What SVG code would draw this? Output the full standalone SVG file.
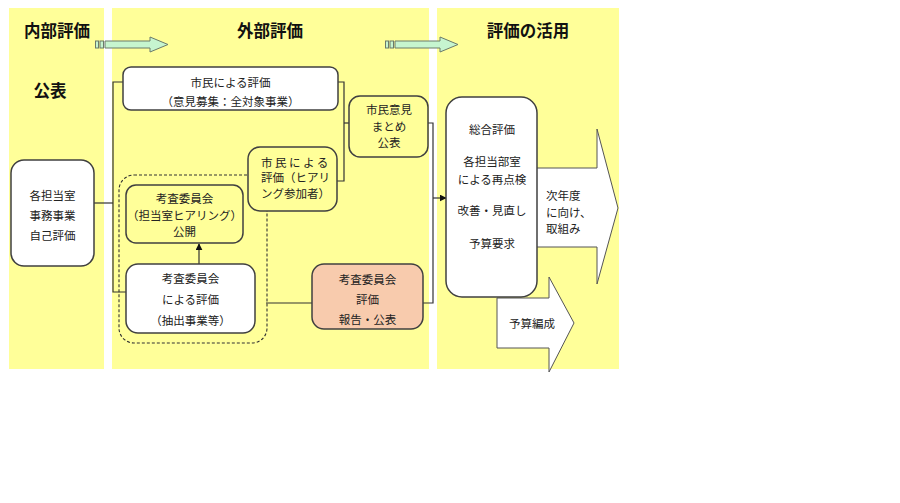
<svg xmlns="http://www.w3.org/2000/svg" width="900" height="503" viewBox="0 0 900 503">
<style>
.panel{fill:#FFFF99}
.box{stroke:#404040;stroke-width:1.5}
.w{fill:#FFFFFF}
.y{fill:#FFFF99}
.pk{fill:#F8CBAD}
.t{font-family:"Noto Sans CJK JP","Noto Sans CJK SC",sans-serif;font-size:11.5px;fill:#222;text-anchor:middle;dominant-baseline:central}
.tl{text-anchor:start}
.h{font-family:"Noto Sans CJK JP","Noto Sans CJK SC",sans-serif;font-size:16.5px;font-weight:bold;fill:#111;text-anchor:middle;dominant-baseline:central}
.ln{fill:none;stroke:#333;stroke-width:1.2}
.ga{fill:#C6F5CF;stroke:#6A7A6A;stroke-width:1}
.ba{fill:#FFFFFF;stroke:#555;stroke-width:1}
</style>
<defs>
<marker id="ah" viewBox="0 0 10 10" refX="9" refY="5" markerWidth="7" markerHeight="7" orient="auto" markerUnits="userSpaceOnUse">
<path d="M0,0 L10,5 L0,10 z" fill="#111"/>
</marker>
</defs>
<rect width="900" height="503" fill="#FFFFFF"/>
<g id="panels">
<rect class="panel" x="9" y="8" width="95" height="361"/>
<rect class="panel" x="112" y="8" width="317" height="361"/>
<rect class="panel" x="437" y="8" width="182" height="361"/>
</g>
<g id="headers">
<text class="h" x="57" y="30">内部評価</text>
<text class="h" x="270" y="30">外部評価</text>
<text class="h" x="528" y="30">評価の活用</text>
<text class="h" x="50" y="90">公表</text>
</g>
<g id="green-arrows">
<rect class="ga" x="95.5" y="41" width="3" height="7"/>
<rect class="ga" x="100" y="41" width="3.5" height="7"/>
<path class="ga" d="M105,41 L150,41 L150,37 L168,44.5 L150,52 L150,48 L105,48 Z"/>
<rect class="ga" x="385.5" y="41" width="3" height="7"/>
<rect class="ga" x="390" y="41" width="3.5" height="7"/>
<path class="ga" d="M395,41 L440,41 L440,37 L458,44.5 L440,52 L440,48 L395,48 Z"/>
</g>
<g id="big-arrows">
<path id="arrow-next" class="ba" d="M520,168 L597,168 L597,129 L618,208 L597,284 L597,247 L520,247 Z"/>
<path id="arrow-budget" class="ba" d="M497,298 L549,298 L549,277 L574,323 L549,372 L549,348 L497,348 Z"/>
</g>
<g id="connectors">
<polyline class="ln" points="94,203 113,203"/>
<polyline class="ln" points="123,82 113,82 113,292 126,292"/>
<polyline class="ln" points="338,82 344,82 344,181 337,181"/>
<polyline class="ln" points="344,123 349,123"/>
<polyline class="ln" points="428,123 433,123 433,303 423,303"/>
<line class="ln" x1="433" y1="198" x2="446" y2="198" marker-end="url(#ah)"/>
<line class="ln" x1="266" y1="303" x2="312" y2="303"/>
<line class="ln" x1="199" y1="264" x2="199" y2="244" marker-end="url(#ah)"/>
<rect x="119" y="175" width="148" height="168" rx="15" fill="none" stroke="#333" stroke-width="1.1" stroke-dasharray="3,2"/>
</g>
<g id="node-naibu">
<rect class="box w" x="11" y="160" width="83" height="106" rx="13"/>
<text class="t" x="52.5" y="195">各担当室</text>
<text class="t" x="52.5" y="215">事務事業</text>
<text class="t" x="52.5" y="235">自己評価</text>
</g>
<g id="node-shimin">
<rect class="box w" x="123" y="67" width="215" height="43" rx="8"/>
<text class="t" x="230.5" y="82">市民による評価</text>
<text class="t" x="230.5" y="101">（意見募集：全対象事業）</text>
</g>
<g id="node-hearing">
<rect class="box y" x="248" y="147" width="89" height="64" rx="12"/>
<text class="t tl" x="261" y="162" letter-spacing="2.5">市民による</text>
<text class="t tl" x="261" y="177">評価（ヒアリ</text>
<text class="t tl" x="261" y="193">ング参加者）</text>
</g>
<g id="node-matome">
<rect class="box y" x="349" y="96" width="79" height="61" rx="11"/>
<text class="t" x="389" y="109">市民意見</text>
<text class="t" x="389" y="126">まとめ</text>
<text class="t" x="389" y="142">公表</text>
</g>
<g id="node-kosa-hearing">
<rect class="box y" x="126" y="185" width="117" height="58" rx="10"/>
<text class="t" x="184.5" y="198">考査委員会</text>
<text class="t" x="184.5" y="215">（担当室ヒアリング）</text>
<text class="t" x="184.5" y="231">公開</text>
</g>
<g id="node-kosa-eval">
<rect class="box w" x="126" y="264" width="129" height="69" rx="12"/>
<text class="t" x="190.5" y="278">考査委員会</text>
<text class="t" x="190.5" y="299">による評価</text>
<text class="t" x="190.5" y="320">（抽出事業等）</text>
</g>
<g id="node-report">
<rect class="box pk" x="312" y="264" width="111" height="65" rx="12"/>
<text class="t" x="367.5" y="279">考査委員会</text>
<text class="t" x="367.5" y="299">評価</text>
<text class="t" x="367.5" y="319">報告・公表</text>
</g>
<g id="node-katsuyo">
<rect class="box w" x="446" y="97" width="91" height="200" rx="16"/>
<text class="t" x="492" y="129">総合評価</text>
<text class="t" x="492" y="161">各担当部室</text>
<text class="t" x="492" y="179">による再点検</text>
<text class="t" x="492" y="210">改善・見直し</text>
<text class="t" x="492" y="243">予算要求</text>
</g>
<g id="labels-arrows">
<text class="t tl" x="546" y="195">次年度</text>
<text class="t tl" x="546" y="212">に向け、</text>
<text class="t tl" x="546" y="228">取組み</text>
<text class="t" x="532" y="323">予算編成</text>
</g>
</svg>
